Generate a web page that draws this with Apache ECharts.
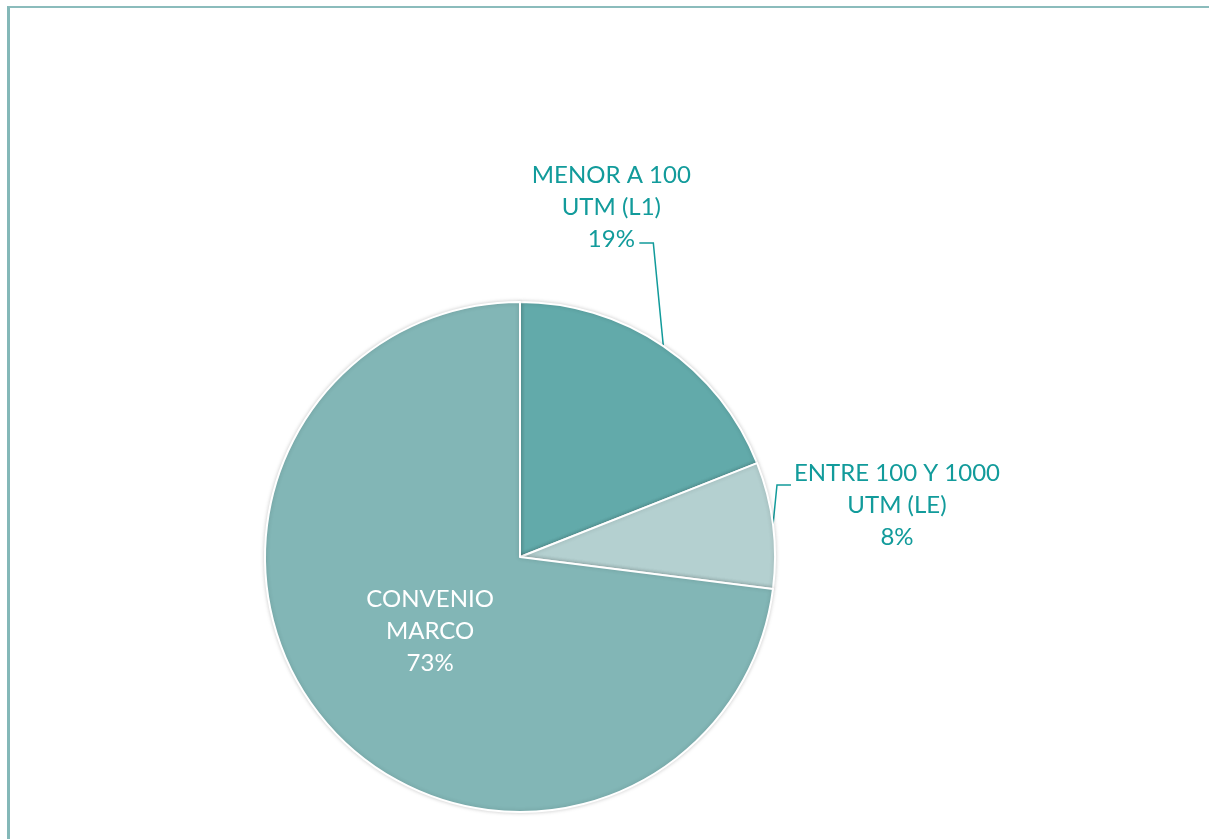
<!DOCTYPE html>
<html>
<head>
<meta charset="utf-8">
<script src="https://cdn.jsdelivr.net/npm/echarts@6/dist/echarts.min.js"></script>
<style>
  html, body { margin: 0; padding: 0; background: #fff; overflow: hidden; }
  #frame { position: absolute; left: 7px; top: 6px; width: 1300px; height: 900px;
           border-top: 2px solid #8bbcbc; border-left: 3px solid #84b8b8; }
  #chart { position: absolute; left: 0; top: 0; width: 1209px; height: 839px; }
</style>
</head>
<body>
<div id="frame"></div>
<div id="chart"></div>
<script>
// slices, clockwise from 12 o'clock
var categories = ['MENOR A 100\nUTM (L1)', 'ENTRE 100 Y 1000\nUTM (LE)', 'CONVENIO\nMARCO'];
var shares = [19, 8, 73];
var sliceColors = ['#62aaaa', '#b4d0d0', '#82b6b6'];

var labelColor = '#129b9b';

var chart = echarts.init(document.getElementById('chart'));

var pieData = [];
for (var i = 0; i < categories.length; i++) {
	pieData.push({
		name: categories[i],
		value: shares[i],
		itemStyle: { color: sliceColors[i] }
	});
}
// the big slice has its label inside, in white
pieData[2].label = { position: 'inside', color: '#ffffff' };
pieData[2].labelLine = { show: false };

chart.setOption({
	animation: false,
	series: [{
		type: 'pie',
		center: [520, 557],
		radius: 255,
		startAngle: 90,
		clockwise: true,
		data: pieData,
		itemStyle: {
			borderColor: '#ffffff',
			borderWidth: 2,
			shadowColor: 'rgba(0,0,0,0.18)',
			shadowBlur: 4
		},
		label: {
			show: true,
			position: 'outside',
			fontFamily: 'Lato',
			fontSize: 24,
			lineHeight: 32,
			color: labelColor,
			align: 'center',
			formatter: function (p) { return p.name + '\n' + p.value + '%'; }
		},
		labelLine: {
			show: true,
			length: 30,
			length2: 14,
			lineStyle: { color: labelColor, width: 1.5 }
		}
	}]
});

// leader lines: a near-vertical run up from the edge, then a short horizontal tick to the label
var leaders = [
	{ rise: 103, lean: -10, tick: -14, dx: -52, dy: -139 },
	{ rise: 40, lean: 4, tick: 14, dx: 124, dy: -20 }
];
chart.setOption({
	series: [{
		labelLayout: function (params) {
			if (params.dataIndex === 2) {
				// nudge the inside label up a little
				return { dx: 8, dy: -12 };
			}
			var leader = leaders[params.dataIndex];
			if (!leader || !params.labelLinePoints) {
				return {};
			}
			var p0 = params.labelLinePoints[0];
			var p1 = [p0[0] + leader.lean, p0[1] - leader.rise];
			var p2 = [p1[0] + leader.tick, p1[1]];
			return {
				x: p0[0] + leader.dx,
				y: p0[1] + leader.dy,
				align: 'center',
				verticalAlign: 'middle',
				labelLinePoints: [p0, p1, p2]
			};
		}
	}]
});
</script>
</body>
</html>
